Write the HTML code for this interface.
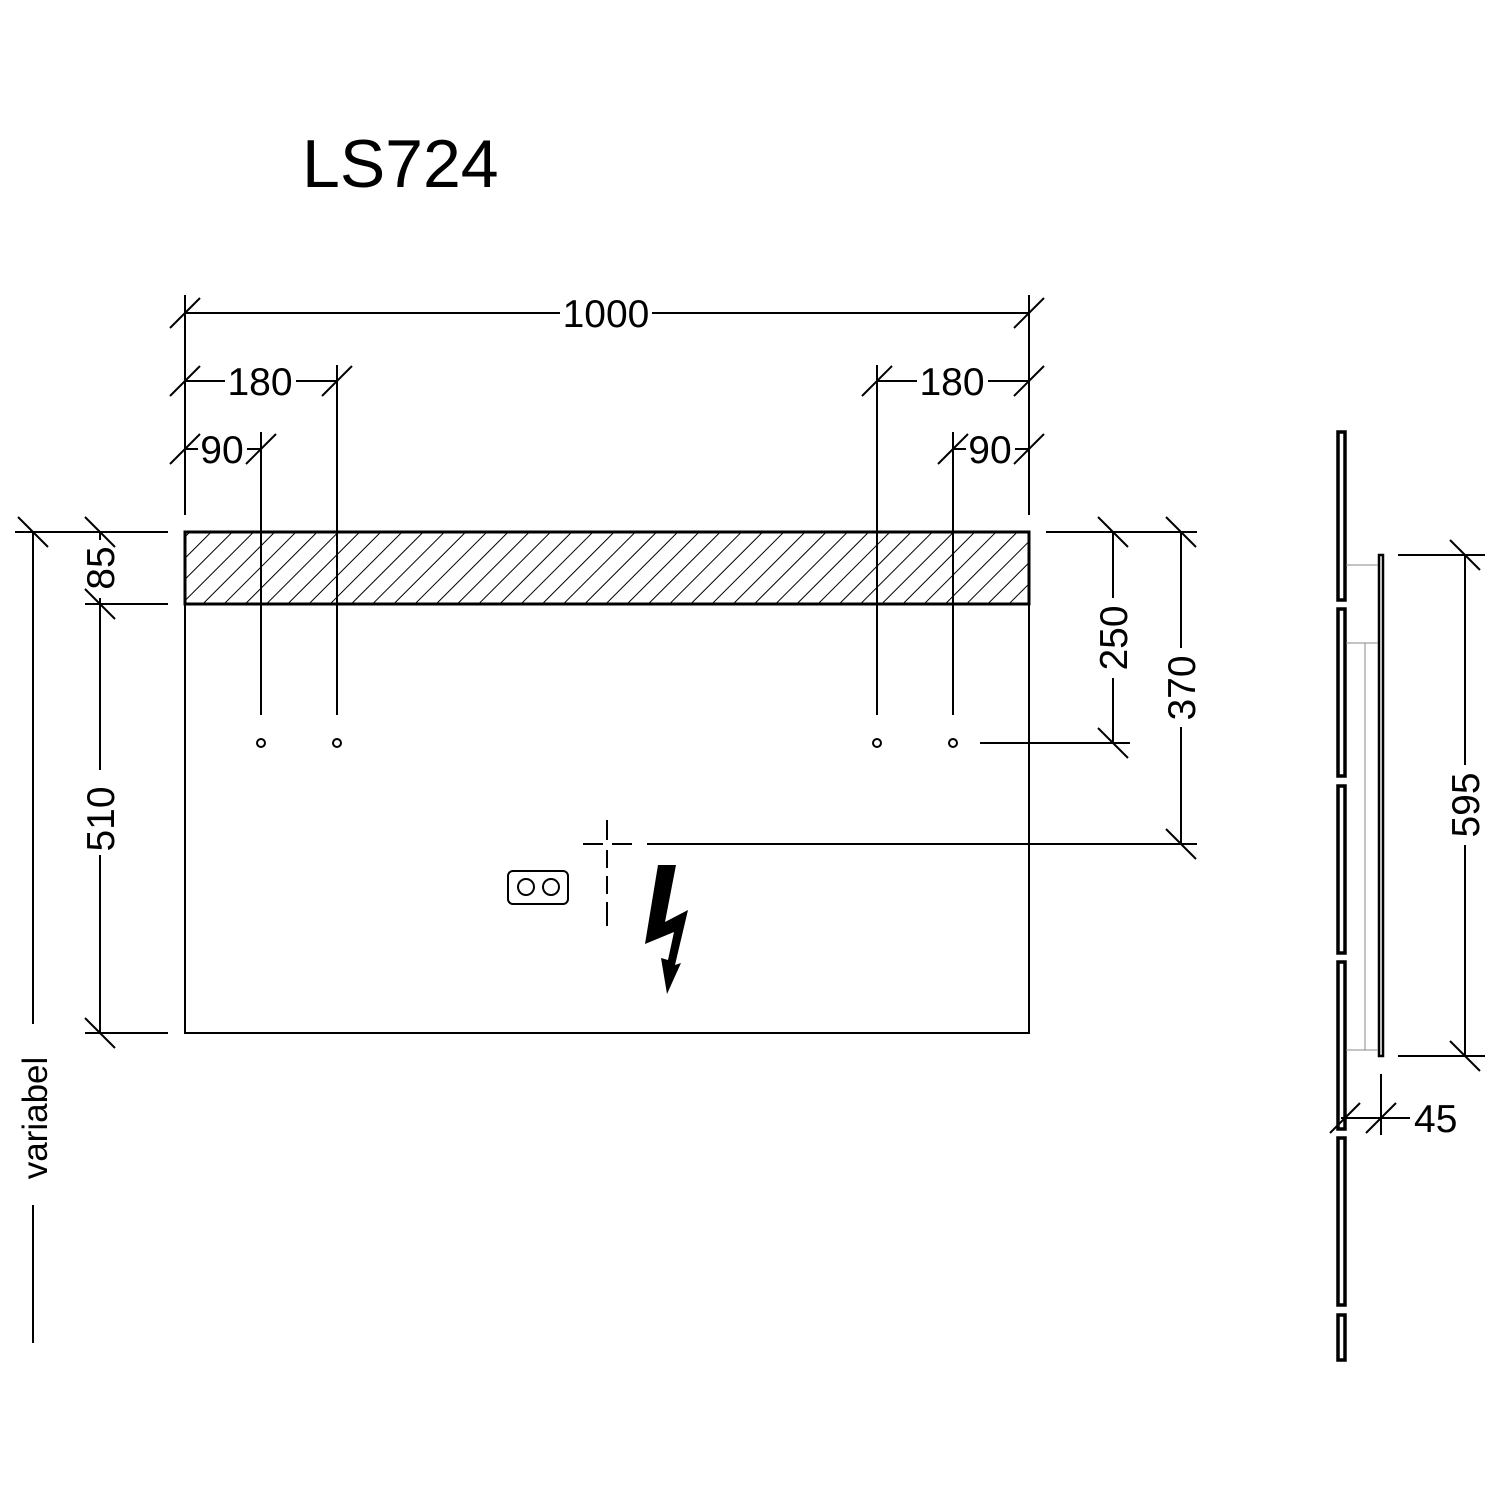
<!DOCTYPE html>
<html><head><meta charset="utf-8"><style>html,body{margin:0;padding:0;background:#fff}svg{display:block}text{font-family:"Liberation Sans",sans-serif;fill:#000}</style></head><body>
<svg width="1500" height="1500" viewBox="0 0 1500 1500" xmlns="http://www.w3.org/2000/svg">
<defs>
<pattern id="h" width="15" height="15" patternUnits="userSpaceOnUse" patternTransform="rotate(45)">
<line x1="0" y1="0" x2="0" y2="15" stroke="#000" stroke-width="2"/>
</pattern>
</defs>
<text x="302" y="187" font-size="68">LS724</text>
<g stroke="#000" stroke-width="2" fill="none">
<rect x="185" y="532" width="844" height="501"/>
<rect x="185" y="532" width="844" height="72" fill="url(#h)" stroke-width="3"/>
<line x1="185" y1="295" x2="185" y2="515"/>
<line x1="1029" y1="295" x2="1029" y2="515"/>
<line x1="337" y1="365" x2="337" y2="715"/>
<line x1="261" y1="432" x2="261" y2="715"/>
<line x1="877" y1="365" x2="877" y2="715"/>
<line x1="953" y1="432" x2="953" y2="715"/>
<line x1="185" y1="313" x2="560" y2="313"/><line x1="652" y1="313" x2="1029" y2="313"/>
<line x1="185" y1="381" x2="225" y2="381"/><line x1="296" y1="381" x2="337" y2="381"/>
<line x1="877" y1="381" x2="917" y2="381"/><line x1="988" y1="381" x2="1029" y2="381"/>
<line x1="185" y1="449" x2="198" y2="449"/><line x1="247" y1="449" x2="261" y2="449"/>
<line x1="953" y1="449" x2="966" y2="449"/><line x1="1015" y1="449" x2="1029" y2="449"/>
<path d="M170 328L200 298M1014 328L1044 298M170 396L200 366M322 396L352 366M862 396L892 366M1014 396L1044 366M170 464L200 434M246 464L276 434M938 464L968 434M1014 464L1044 434"/>
<line x1="15" y1="532" x2="168" y2="532"/>
<line x1="85" y1="604" x2="168" y2="604"/>
<line x1="85" y1="1033" x2="168" y2="1033"/>
<line x1="100" y1="532" x2="100" y2="540"/>
<line x1="100" y1="598" x2="100" y2="770"/><line x1="100" y1="855" x2="100" y2="1033"/>
<line x1="33" y1="532" x2="33" y2="1024"/><line x1="33" y1="1205" x2="33" y2="1343"/>
<path d="M18 517L48 547M85 517L115 547M85 589L115 619M85 1018L115 1048"/>
<line x1="1046" y1="532" x2="1197" y2="532"/>
<line x1="980" y1="743" x2="1130" y2="743"/>
<line x1="647" y1="844" x2="1197" y2="844"/>
<line x1="1113" y1="532" x2="1113" y2="598"/><line x1="1113" y1="678" x2="1113" y2="743"/>
<line x1="1181" y1="532" x2="1181" y2="648"/><line x1="1181" y1="727" x2="1181" y2="844"/>
<path d="M1098 517L1128 547M1098 728L1128 758M1166 517L1196 547M1166 829L1196 859"/>
<circle cx="261" cy="743" r="4"/><circle cx="337" cy="743" r="4"/><circle cx="877" cy="743" r="4"/><circle cx="953" cy="743" r="4"/>
<path d="M583 844h20M612 844h20M607 820v20M607 850v18M607 876v18M607 902v18M607 912v14"/>
<rect x="508" y="871" width="60" height="33" rx="5"/>
<circle cx="526" cy="887" r="8"/><circle cx="551" cy="887" r="8"/>
</g>
<path d="M658 865L676 865L665 922L688 910L675 965L681 963L667 994L661 958L668 960L674 932L645 944Z" fill="#000"/>
<g font-size="39" text-anchor="middle">
<text x="606" y="327">1000</text>
<text x="260" y="395">180</text>
<text x="952" y="395">180</text>
<text x="222" y="463">90</text>
<text x="990" y="463">90</text>
<text x="1414" y="1132" text-anchor="start">45</text>
<text transform="translate(114 568) rotate(-90)">85</text>
<text transform="translate(114 819) rotate(-90)">510</text>
<text transform="translate(1127 638) rotate(-90)">250</text>
<text transform="translate(1195 688) rotate(-90)">370</text>
<text transform="translate(1479 805) rotate(-90)">595</text>
<text transform="translate(47 1118) rotate(-90)" font-size="35">variabel</text>
</g>
<g stroke="#000" fill="none">
<g stroke-width="3.5">
<rect x="1338" y="432" width="7" height="168"/>
<rect x="1338" y="609" width="7" height="167"/>
<rect x="1338" y="786" width="7" height="167"/>
<rect x="1338" y="962" width="7" height="167"/>
<rect x="1338" y="1138" width="7" height="167"/>
<rect x="1338" y="1315" width="7" height="45"/>
</g>
<rect x="1379" y="555" width="4" height="501" stroke-width="2.5"/>
<g stroke-width="1" stroke="#888">
<line x1="1346" y1="565" x2="1378" y2="565"/>
<line x1="1346" y1="643" x2="1378" y2="643"/>
<line x1="1346" y1="1050" x2="1378" y2="1050"/>
<line x1="1365" y1="643" x2="1365" y2="1050"/>
</g>
<g stroke-width="2">
<line x1="1398" y1="555" x2="1485" y2="555"/>
<line x1="1398" y1="1056" x2="1485" y2="1056"/>
<line x1="1465" y1="555" x2="1465" y2="765"/><line x1="1465" y1="845" x2="1465" y2="1056"/>
<path d="M1450 540L1480 570M1450 1041L1480 1071"/>
<line x1="1381" y1="1074" x2="1381" y2="1135"/>
<line x1="1341" y1="1118" x2="1410" y2="1118"/>
<path d="M1330 1133L1360 1103M1366 1133L1396 1103"/>
</g>
</g>
</svg>
</body></html>
